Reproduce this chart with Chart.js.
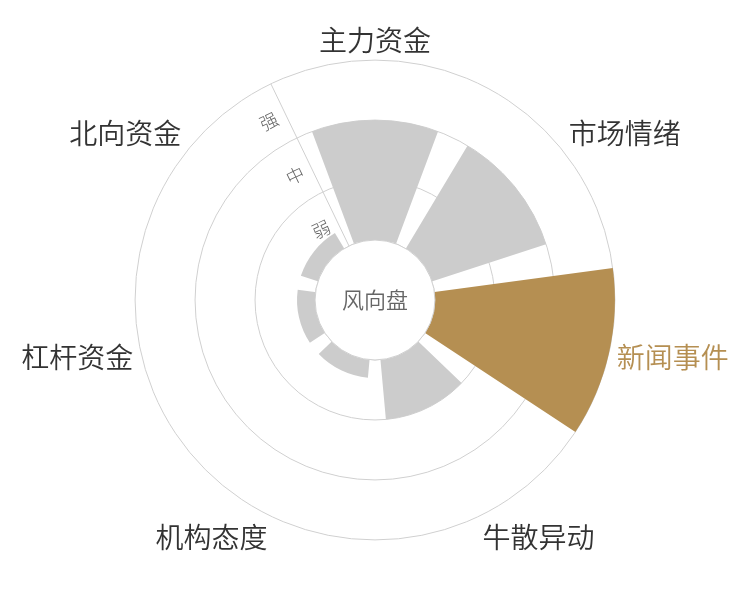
<!DOCTYPE html>
<html>
<head>
<meta charset="utf-8">
<script src="https://cdn.jsdelivr.net/npm/chart.js@4.4.1/dist/chart.umd.min.js"></script>
<style>
  html, body { margin: 0; padding: 0; background: #fff; }
  #wrap { width: 750px; height: 600px; }
</style>
</head>
<body>
<div id="wrap"><canvas id="windChart"></canvas></div>
<script>
// 风向盘 - polar bars, one per signal
const categories = ['主力资金', '市场情绪', '新闻事件', '牛散异动', '机构态度', '杠杆资金', '北向资金']
const strength = [2, 2, 3, 1, 0.3, 0.3, 0.3]   // 0 = edge of the hole, 1 / 2 / 3 = ring borders
const levelLabels = ['弱', '中', '强']
const highlightIndex = 2

const barColor = '#cccccc'
const highlightColor = '#b58f52'
const gridColor = '#d0d0d0'
const textColor = '#333333'
const cjkFont = '"Noto Sans CJK SC", "Noto Sans", sans-serif'

const slotAngle = 360 / categories.length
const barAngle = 41
const gapAngle = slotAngle - barAngle
const emptyValue = -1   // scale min -> zero radius

// slices go: half gap, bar, gap, bar ... bar, half gap
let sliceValues = [emptyValue]
let sliceColors = ['rgba(0,0,0,0)']
let sliceAngles = [gapAngle / 2]
strength.forEach((v, i) => {
    sliceValues.push(v)
    sliceColors.push(i === highlightIndex ? highlightColor : barColor)
    sliceAngles.push(barAngle)
    sliceValues.push(emptyValue)
    sliceColors.push('rgba(0,0,0,0)')
    sliceAngles.push(i === strength.length - 1 ? gapAngle / 2 : gapAngle)
})

// grid rings on whole numbers, level names in between
let tickValues = [-1, 0, 1, 2, 3]
levelLabels.forEach((l, i) => tickValues.push(i + 0.45))
tickValues.sort((a, b) => a - b)

function labelLineHeight(index) {
    let c = Math.cos(index * slotAngle * Math.PI / 180)
    if (Math.abs(c) < 0.3) return 0.15
    return c > 0 ? 0.86 : 1
}

const holePlugin = {
    id: 'hole',
    afterDatasetsDraw(chart) {
        let scale = chart.scales.r
        let ctx = chart.ctx
        let r0 = scale.getDistanceFromCenterForValue(0)
        ctx.save()
        ctx.beginPath()
        ctx.arc(scale.xCenter, scale.yCenter, r0, 0, Math.PI * 2)
        ctx.fillStyle = '#ffffff'
        ctx.fill()
        ctx.lineWidth = 1
        ctx.strokeStyle = gridColor
        ctx.stroke()
        ctx.fillStyle = '#666666'
        ctx.font = '350 22px ' + cjkFont
        ctx.textAlign = 'center'
        ctx.textBaseline = 'middle'
        ctx.fillText('风向盘', scale.xCenter, scale.yCenter)
        ctx.restore()
    }
}

let windChart = new Chart(document.getElementById('windChart'), {
    type: 'polarArea',
    data: {
        labels: categories,
        datasets: [{
            data: sliceValues,
            backgroundColor: sliceColors,
            borderWidth: 0,
            angle: ctx => sliceAngles[ctx.dataIndex]
        }]
    },
    options: {
        responsive: true,
        maintainAspectRatio: false,
        animation: false,
        layout: { padding: { top: 18, bottom: 38, left: 1, right: 0 } },
        plugins: {
            legend: { display: false },
            tooltip: { enabled: false }
        },
        scales: {
            r: {
                min: -1,
                max: 3,
                startAngle: -slotAngle / 2,
                afterBuildTicks: scale => {
                    scale.ticks = tickValues.map(v => ({ value: v }))
                },
                grid: {
                    circular: true,
                    color: ctx => Number.isInteger(ctx.tick.value) ? gridColor : 'rgba(0,0,0,0)'
                },
                angleLines: {
                    display: true,
                    color: ctx => ctx.index === 0 ? gridColor : 'rgba(0,0,0,0)'
                },
                ticks: {
                    showLabelBackdrop: false,
                    backdropPadding: 0,
                    color: '#666666',
                    font: { size: 18, weight: 300, family: cjkFont },
                    callback: value => Number.isInteger(value) ? '' : levelLabels[Math.floor(value)] + '\u3000\u3000'
                },
                pointLabels: {
                    display: true,
                    centerPointLabels: true,
                    padding: -1,
                    color: ctx => ctx.index === highlightIndex ? highlightColor : textColor,
                    font: ctx => ({ size: 28, weight: 350, family: cjkFont, lineHeight: labelLineHeight(ctx.index) })
                }
            }
        }
    },
    plugins: [holePlugin]
})
</script>
</body>
</html>
